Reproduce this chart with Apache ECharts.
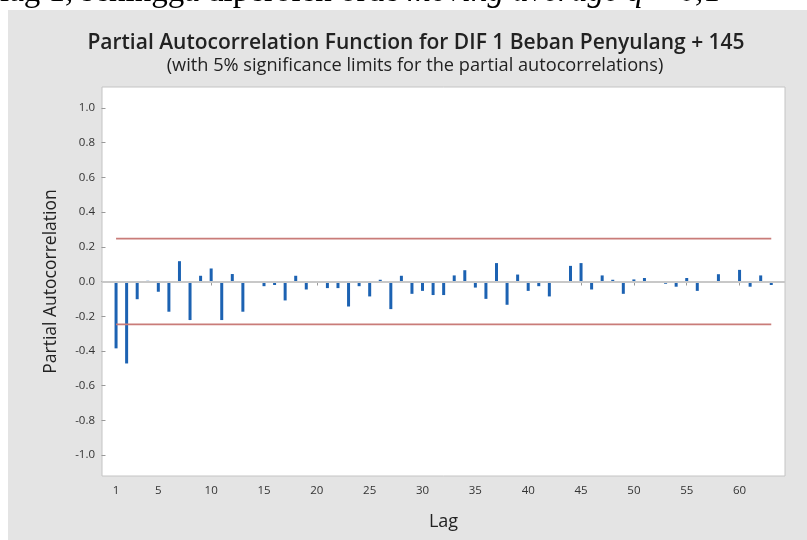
<!DOCTYPE html>
<html><head><meta charset="utf-8">
<script src="https://cdn.jsdelivr.net/npm/echarts@6/dist/echarts.min.js"></script>
<style>html,body{margin:0;padding:0;background:#fff}#c{width:807px;height:540px}</style>
</head><body><div id="c"></div>
<script>
const lags = [1,2,3,4,5,6,7,8,9,10,11,12,13,14,15,16,17,18,19,20,21,22,23,24,25,26,27,28,29,30,31,32,33,34,35,36,37,38,39,40,41,42,43,44,45,46,47,48,49,50,51,52,53,54,55,56,57,58,59,60,61,62,63];
const pacf = [-0.385,-0.472,-0.102,0.004,-0.059,-0.174,0.117,-0.222,0.033,0.075,
  -0.222,0.043,-0.174,-0.004,-0.027,-0.020,-0.109,0.033,-0.046,0.003,
  -0.038,-0.038,-0.144,-0.027,-0.086,0.010,-0.159,0.033,-0.071,-0.054,
  -0.078,-0.078,0.035,0.065,-0.035,-0.100,0.106,-0.134,0.040,-0.054,
  -0.027,-0.086,0.003,0.090,0.106,-0.046,0.035,0.010,-0.071,0.012,
  0.020,-0.003,-0.013,-0.030,0.020,-0.054,0.003,0.042,-0.003,0.067,
  -0.030,0.035,-0.020];
const xTicks = [1,5,10,15,20,25,30,35,40,45,50,55,60];
const yTicks = [-1.0,-0.8,-0.6,-0.4,-0.2,0.0,0.2,0.4,0.6,0.8,1.0];
const sigLimit = 0.247;

const chart = echarts.init(document.getElementById('c'));
const font = 'Open Sans';
chart.setOption({
  backgroundColor: '#e4e4e4',
  animation: false,
  graphic: [
    {type:'rect', z:100, shape:{x:0,y:0,width:807,height:10}, style:{fill:'#fff'}},
    {type:'rect', z:100, shape:{x:0,y:0,width:8,height:540}, style:{fill:'#fff'}},
    {type:'text', z:101, x:0, y:-8, style:{
      text:'{a|lag 1, sehingga diperoleh orde }{b|moving average q}{a| = 0,1}',
      verticalAlign:'middle',
      rich:{a:{fontFamily:'Liberation Serif',fontSize:33,fill:'#000'},
            b:{fontFamily:'Liberation Serif',fontSize:33,fontStyle:'italic',fill:'#000'}}
    }},
    {type:'rect', z:102, shape:{x:8,y:10,width:799,height:12}, style:{fill:'#e4e4e4'}},
    {type:'text', x:416, y:43, style:{text:'Partial Autocorrelation Function for DIF 1 Beban Penyulang + 145',
      fontFamily:font, fontWeight:600, fontSize:21, fill:'#222', align:'center', verticalAlign:'middle'}},
    {type:'text', x:415, y:66, style:{text:'(with 5% significance limits for the partial autocorrelations)',
      fontFamily:font, fontSize:18.2, fill:'#222', align:'center', verticalAlign:'middle'}}
  ],
  grid: {left:102, top:87, right:22, bottom:64, show:true, backgroundColor:'#fff', borderColor:'#c4c4c4', borderWidth:1},
  xAxis: {
    type:'value', min:-0.33, max:64.3,
    name:'Lag', nameLocation:'middle', nameGap:37,
    nameTextStyle:{fontFamily:font, fontSize:18, color:'#222'},
    axisLine:{show:false},
    splitLine:{show:false},
    axisTick:{show:true, length:4, lineStyle:{color:'#999'}, customValues: xTicks},
    axisLabel:{fontFamily:font, fontSize:11.5, color:'#333', margin:9, customValues: xTicks, formatter: v => String(v)}
  },
  yAxis: {
    type:'value', min:-1.12, max:1.12,
    name:'Partial Autocorrelation', nameLocation:'middle', nameGap:42, nameRotate:90,
    nameTextStyle:{fontFamily:font, fontSize:17.5, color:'#222'},
    axisLine:{show:false},
    splitLine:{show:false},
    axisTick:{show:true, length:4, lineStyle:{color:'#999'}, customValues: yTicks},
    axisLabel:{fontFamily:font, fontSize:11.5, color:'#333', margin:7, customValues: yTicks, formatter: v => v.toFixed(1)}
  },
  series: [
    {type:'bar', data: lags.map((l,i)=>[l,pacf[i]]), barWidth:3, itemStyle:{color:'#1c62b2'},
     markLine:{silent:true, symbol:'none', label:{show:false}, lineStyle:{color:'#c8c8c8', width:2, type:'solid'}, data:[{yAxis:0}]}},
    {type:'line', data:[[lags[0],sigLimit],[lags[lags.length-1],sigLimit]], symbol:'none', lineStyle:{color:'#c97c79', width:1.6}},
    {type:'line', data:[[lags[0],-sigLimit],[lags[lags.length-1],-sigLimit]], symbol:'none', lineStyle:{color:'#c97c79', width:1.6}}
  ]
});
</script></body></html>
